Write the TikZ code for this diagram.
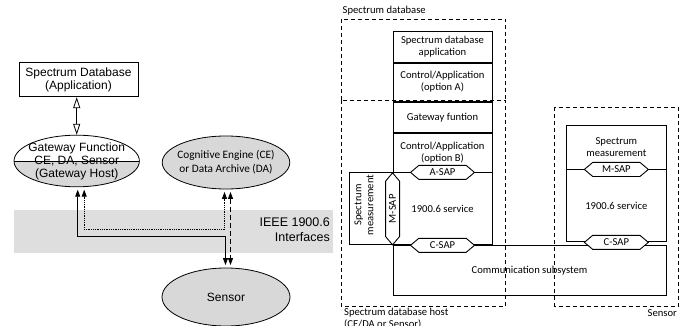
\documentclass[tikz,border=0pt]{standalone}
\usepackage{fontspec}
\usetikzlibrary{arrows.meta,positioning,shapes.geometric,shapes.symbols}
\newfontfamily\arialfont{Liberation Sans}
\newfontfamily\calibrifont{Carlito}
\definecolor{bandgray}{RGB}{222,222,222}
\definecolor{nodegray}{RGB}{216,216,216}
\newcommand{\lfont}{\arialfont\fontsize{12}{13}\selectfont}
\newcommand{\rfont}{\calibrifont\fontsize{10.6}{12}\selectfont}

\begin{document}
\begin{tikzpicture}[
			x=1pt, y=-1pt,
			every node/.style={inner sep=0pt},
			dbbox/.style={draw, line width=0.8pt, minimum width=119pt, minimum height=34.5pt, align=center, font=\lfont},
			oval/.style={ellipse, draw, line width=0.8pt, fill=nodegray},
			ltext/.style={align=center, font=\lfont},
			link/.style={line width=0.8pt, {Triangle[length=7pt,width=5pt]}-{Triangle[length=7pt,width=5pt]}, shorten <=2.5pt, shorten >=2.5pt},
			openlink/.style={line width=0.8pt, {Triangle[open,length=11pt,width=7pt]}-{Triangle[open,length=11pt,width=7pt]}},
			stackbox/.style={draw, line width=0.9pt, minimum width=99pt, align=center, font=\rfont},
			sap/.style={signal, signal to=east and west, signal pointer angle=80, draw, fill=white, line width=0.9pt, minimum width=64pt, minimum height=14pt, font=\rfont},
			groupbox/.style={line width=0.9pt, dash pattern=on 4pt off 3pt},
			rtext/.style={align=center, font=\rfont}
		]
			\useasboundingbox (0,0) rectangle (688,326);
			% left: interfaces
			\fill[bandgray] (14,210) rectangle (333,252.5);
			\node[ltext, anchor=east, font=\arialfont\fontsize{12.5}{15}\selectfont, align=right] (iface) at (330,230) {IEEE 1900.6\\Interfaces};
			\node[dbbox] (db) at (78.5,79.5) {Spectrum Database\\(Application)};
			\node[oval, fill=white, minimum width=125.4pt, minimum height=51.6pt,
				path picture={\fill[nodegray] (path picture bounding box.west) rectangle (path picture bounding box.south east);
					\draw[line width=0.8pt] (path picture bounding box.west) -- (path picture bounding box.east);}] (gw) at (76.7,161) {};
			\node[ltext] (gwtext) at (gw) {Gateway Function\\CE, DA, Sensor\\(Gateway Host)};
			\node[oval, minimum width=127.6pt, minimum height=53pt] (ce) at (226,162.5) {};
			\node[rtext, font=\calibrifont\fontsize{11.3}{13.7}\selectfont] (cetext) at (ce) {Cognitive Engine (CE)\\or Data Archive (DA)};
			\node[oval, minimum width=128pt, minimum height=58pt, font=\lfont] (sensor) at (226,297) {Sensor};
			\draw[openlink] (db.south -| gw.north) -- (gw.north);
			\draw[link] ([xshift=1pt]gw.south) -- ++(0,49) -| ([xshift=-0.5pt]sensor.north);
			\draw[link, densely dotted] ([xshift=7.5pt]gw.south) -- ++(0,42) -| ([xshift=-1.5pt]ce.south);
			\draw[link, dash pattern=on 5pt off 3pt] ([xshift=4.5pt]ce.south) -- ([xshift=4.5pt]sensor.north);
			% right: host and sensor
			\draw[groupbox] (341,100) -- (341,19) -- (505.7,19) -- (505.7,100);
			\draw[groupbox] (341,100) rectangle (505.7,306);
			\draw[groupbox] (554.3,107.3) rectangle (678.3,306);
			\node[rtext, anchor=west] (dblabel) at (342.5,11) {Spectrum database};
			\node[rtext, anchor=north west, align=left] (hostlabel) at (344,307.5) {Spectrum database host\\(CE/DA or Sensor)};
			\node[rtext, anchor=east] (sensorlabel) at (677,313) {Sensor};
			\node[stackbox, minimum height=30.5pt] (sda) at (442.5,47) {Spectrum database\\application};
			\node[stackbox, minimum height=38pt, below=0pt of sda] (caa) {Control/Application\\(option A)};
			\node[stackbox, minimum height=30.5pt, below=0pt of caa] (gwf) {Gateway funtion};
			\node[stackbox, minimum height=38.5pt, below=0pt of gwf] (cab) {Control/Application\\(option B)};
			\node[stackbox, minimum height=72pt, below=0pt of cab] (hs) {1900.6 service};
			\node[stackbox, minimum width=42.3pt, minimum height=72pt, left=0pt of hs] (hm) {};
			\node[rtext, rotate=90] (hmtext) at (364,205) {Spectrum\\measurement};
			\node[stackbox, minimum width=273pt, minimum height=50pt, anchor=north west] (comm) at (hs.south west) {Communication subsystem};
			\node[stackbox, minimum width=99.3pt, minimum height=44pt] (sm) at (616.35,147) {Spectrum\\measurement};
			\node[stackbox, minimum width=99.3pt, minimum height=72pt, below=0pt of sm] (ss) {1900.6 service};
			\node[sap] (asap) at (hs.north) {A-SAP};
			\node[sap] (csap) at (hs.south) {C-SAP};
			\node[sap, rotate=90, minimum width=72pt] (msap) at (hs.west) {M-SAP};
			\node[sap] (smsap) at (ss.north) {M-SAP};
			\node[sap] (scsap) at (ss.south) {C-SAP};
		\end{tikzpicture}
\end{document}
